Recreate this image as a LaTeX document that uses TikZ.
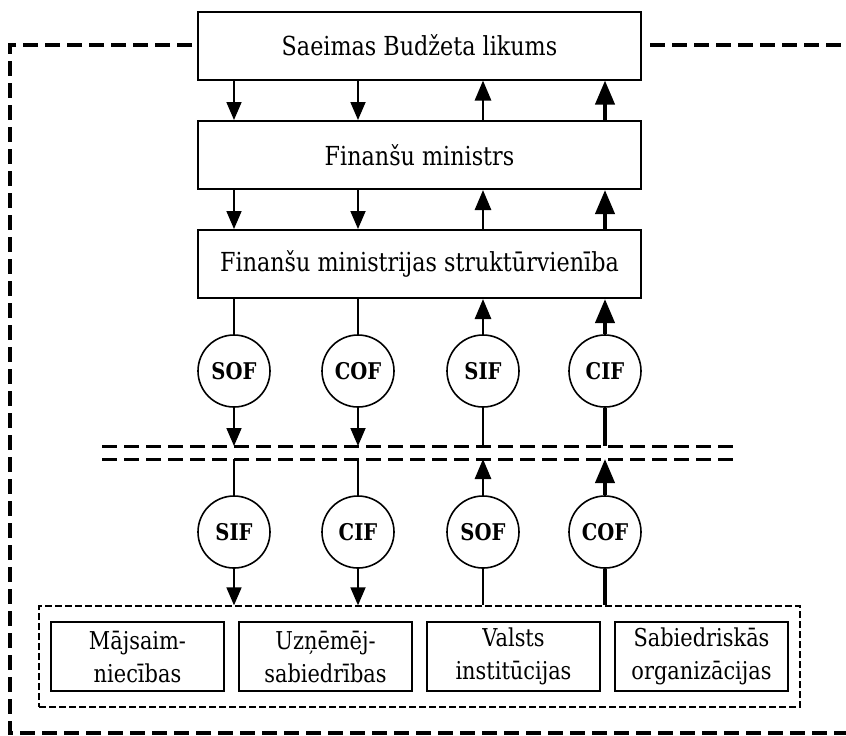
\documentclass[tikz,border=0pt]{standalone}
\usepackage{fontspec}
\setmainfont{DejaVu Serif}[FakeStretch=0.85]
\usetikzlibrary{arrows.meta}

\tikzset{
    kaste/.style={draw, line width=1pt, minimum width=221.5pt, minimum height=34pt, inner sep=0pt, font=\fontsize{13.1}{15}\selectfont},
    apalis/.style={draw, circle, line width=0.8pt, minimum size=36pt, inner sep=0pt, font=\fontsize{11.5}{13}\selectfont\bfseries},
    maza/.style={draw, line width=1pt, minimum width=86.5pt, minimum height=34.5pt, inner sep=0pt, align=center, font=\fontsize{12.3}{16.5}\selectfont},
    lejup/.style={line width=0.9pt, -{Triangle[width=7.5pt,length=9pt]}},
    augsup/.style={line width=1.4pt, -{Triangle[width=8pt,length=10pt]}},
    augsupb/.style={line width=2pt, -{Triangle[width=9.5pt,length=12pt]}},
    robeza/.style={line width=1.5pt, dash pattern=on 7.5pt off 3.5pt},
    apvads/.style={line width=1.7pt, dash pattern=on 7.5pt off 3.5pt}
}

\begin{document}
\begin{tikzpicture}[x=0.5pt, y=-0.5pt]
    \useasboundingbox (0,0) rectangle (846,735);
    \coordinate (k1) at (234,0);
    \coordinate (k2) at (358,0);
    \coordinate (k3) at (483,0);
    \coordinate (k4) at (605,0);
    \coordinate (ja) at (0,446);
    \coordinate (jb) at (0,459);
    \draw (419.5, 45.5) node[kaste] (likums) {Saeimas Budžeta likums};
    \draw (419.5, 155) node[kaste] (ministrs) {Finanšu ministrs};
    \draw (419.5, 264) node[kaste] (struktura) {Finanšu ministrijas struktūrvienība};
    \draw (234, 371) node[apalis] (sofA) {SOF};
    \draw (358, 371) node[apalis] (cofA) {COF};
    \draw (483, 371) node[apalis] (sifA) {SIF};
    \draw (605, 371) node[apalis] (cifA) {CIF};
    \draw (234, 532) node[apalis] (sifB) {SIF};
    \draw (358, 532) node[apalis] (cifB) {CIF};
    \draw (483, 532) node[apalis] (sofB) {SOF};
    \draw (605, 532) node[apalis] (cofB) {COF};
    \draw (419.5, 656.5) node[draw, line width=0.7pt, dash pattern=on 3.5pt off 1.5pt, minimum width=380.5pt, minimum height=50.5pt] (grupa) {};
    \draw (137.5, 656.5) node[maza] (maj) {Mājsaim-\\niecības};
    \draw (325.5, 656.5) node[maza] (uzn) {Uzņēmēj-\\sabiedrības};
    \draw (513.5, 656.5) node[maza] (val) {Valsts\\institūcijas};
    \draw (701.5, 656.5) node[maza] (sab) {Sabiedriskās\\organizācijas};

    \draw[robeza] (102,446) -- (735,446);
    \draw[robeza] (102,459) -- (735,459);
    \draw[apvads] (likums.west |- 0,45) ++(-5,0) -- (10,45) -- (10,733) -- (846,733);
    \draw[apvads] (likums.east |- 0,45) ++(8,0) -- (846,45);

    \draw[lejup] (likums.south -| k1) -- (ministrs.north -| k1);
    \draw[lejup] (likums.south -| k2) -- (ministrs.north -| k2);
    \draw[augsup] (ministrs.north -| k3) -- (likums.south -| k3);
    \draw[augsupb] (ministrs.north -| k4) -- (likums.south -| k4);
    \draw[lejup] (ministrs.south -| k1) -- (struktura.north -| k1);
    \draw[lejup] (ministrs.south -| k2) -- (struktura.north -| k2);
    \draw[augsup] (struktura.north -| k3) -- (ministrs.south -| k3);
    \draw[augsupb] (struktura.north -| k4) -- (ministrs.south -| k4);

    \draw[line width=0.9pt] (struktura.south -| k1) -- (sofA);
    \draw[line width=0.9pt] (struktura.south -| k2) -- (cofA);
    \draw[augsup] (sifA) -- (struktura.south -| k3);
    \draw[augsupb] (cifA) -- (struktura.south -| k4);
    \draw[lejup] (sofA) -- (ja -| k1);
    \draw[lejup] (cofA) -- (ja -| k2);
    \draw[line width=1.4pt] (sifA) -- (ja -| k3);
    \draw[line width=2pt] (cifA) -- (ja -| k4);

    \draw[line width=0.9pt] (jb -| k1) -- (sifB);
    \draw[line width=0.9pt] (jb -| k2) -- (cifB);
    \draw[augsup] (sofB) -- (jb -| k3);
    \draw[augsupb] (cofB) -- (jb -| k4);
    \draw[lejup] (sifB) -- (grupa.north -| k1);
    \draw[lejup] (cifB) -- (grupa.north -| k2);
    \draw[line width=1.4pt] (sofB) -- (grupa.north -| k3);
    \draw[line width=2pt] (cofB) -- (grupa.north -| k4);
\end{tikzpicture}
\end{document}
